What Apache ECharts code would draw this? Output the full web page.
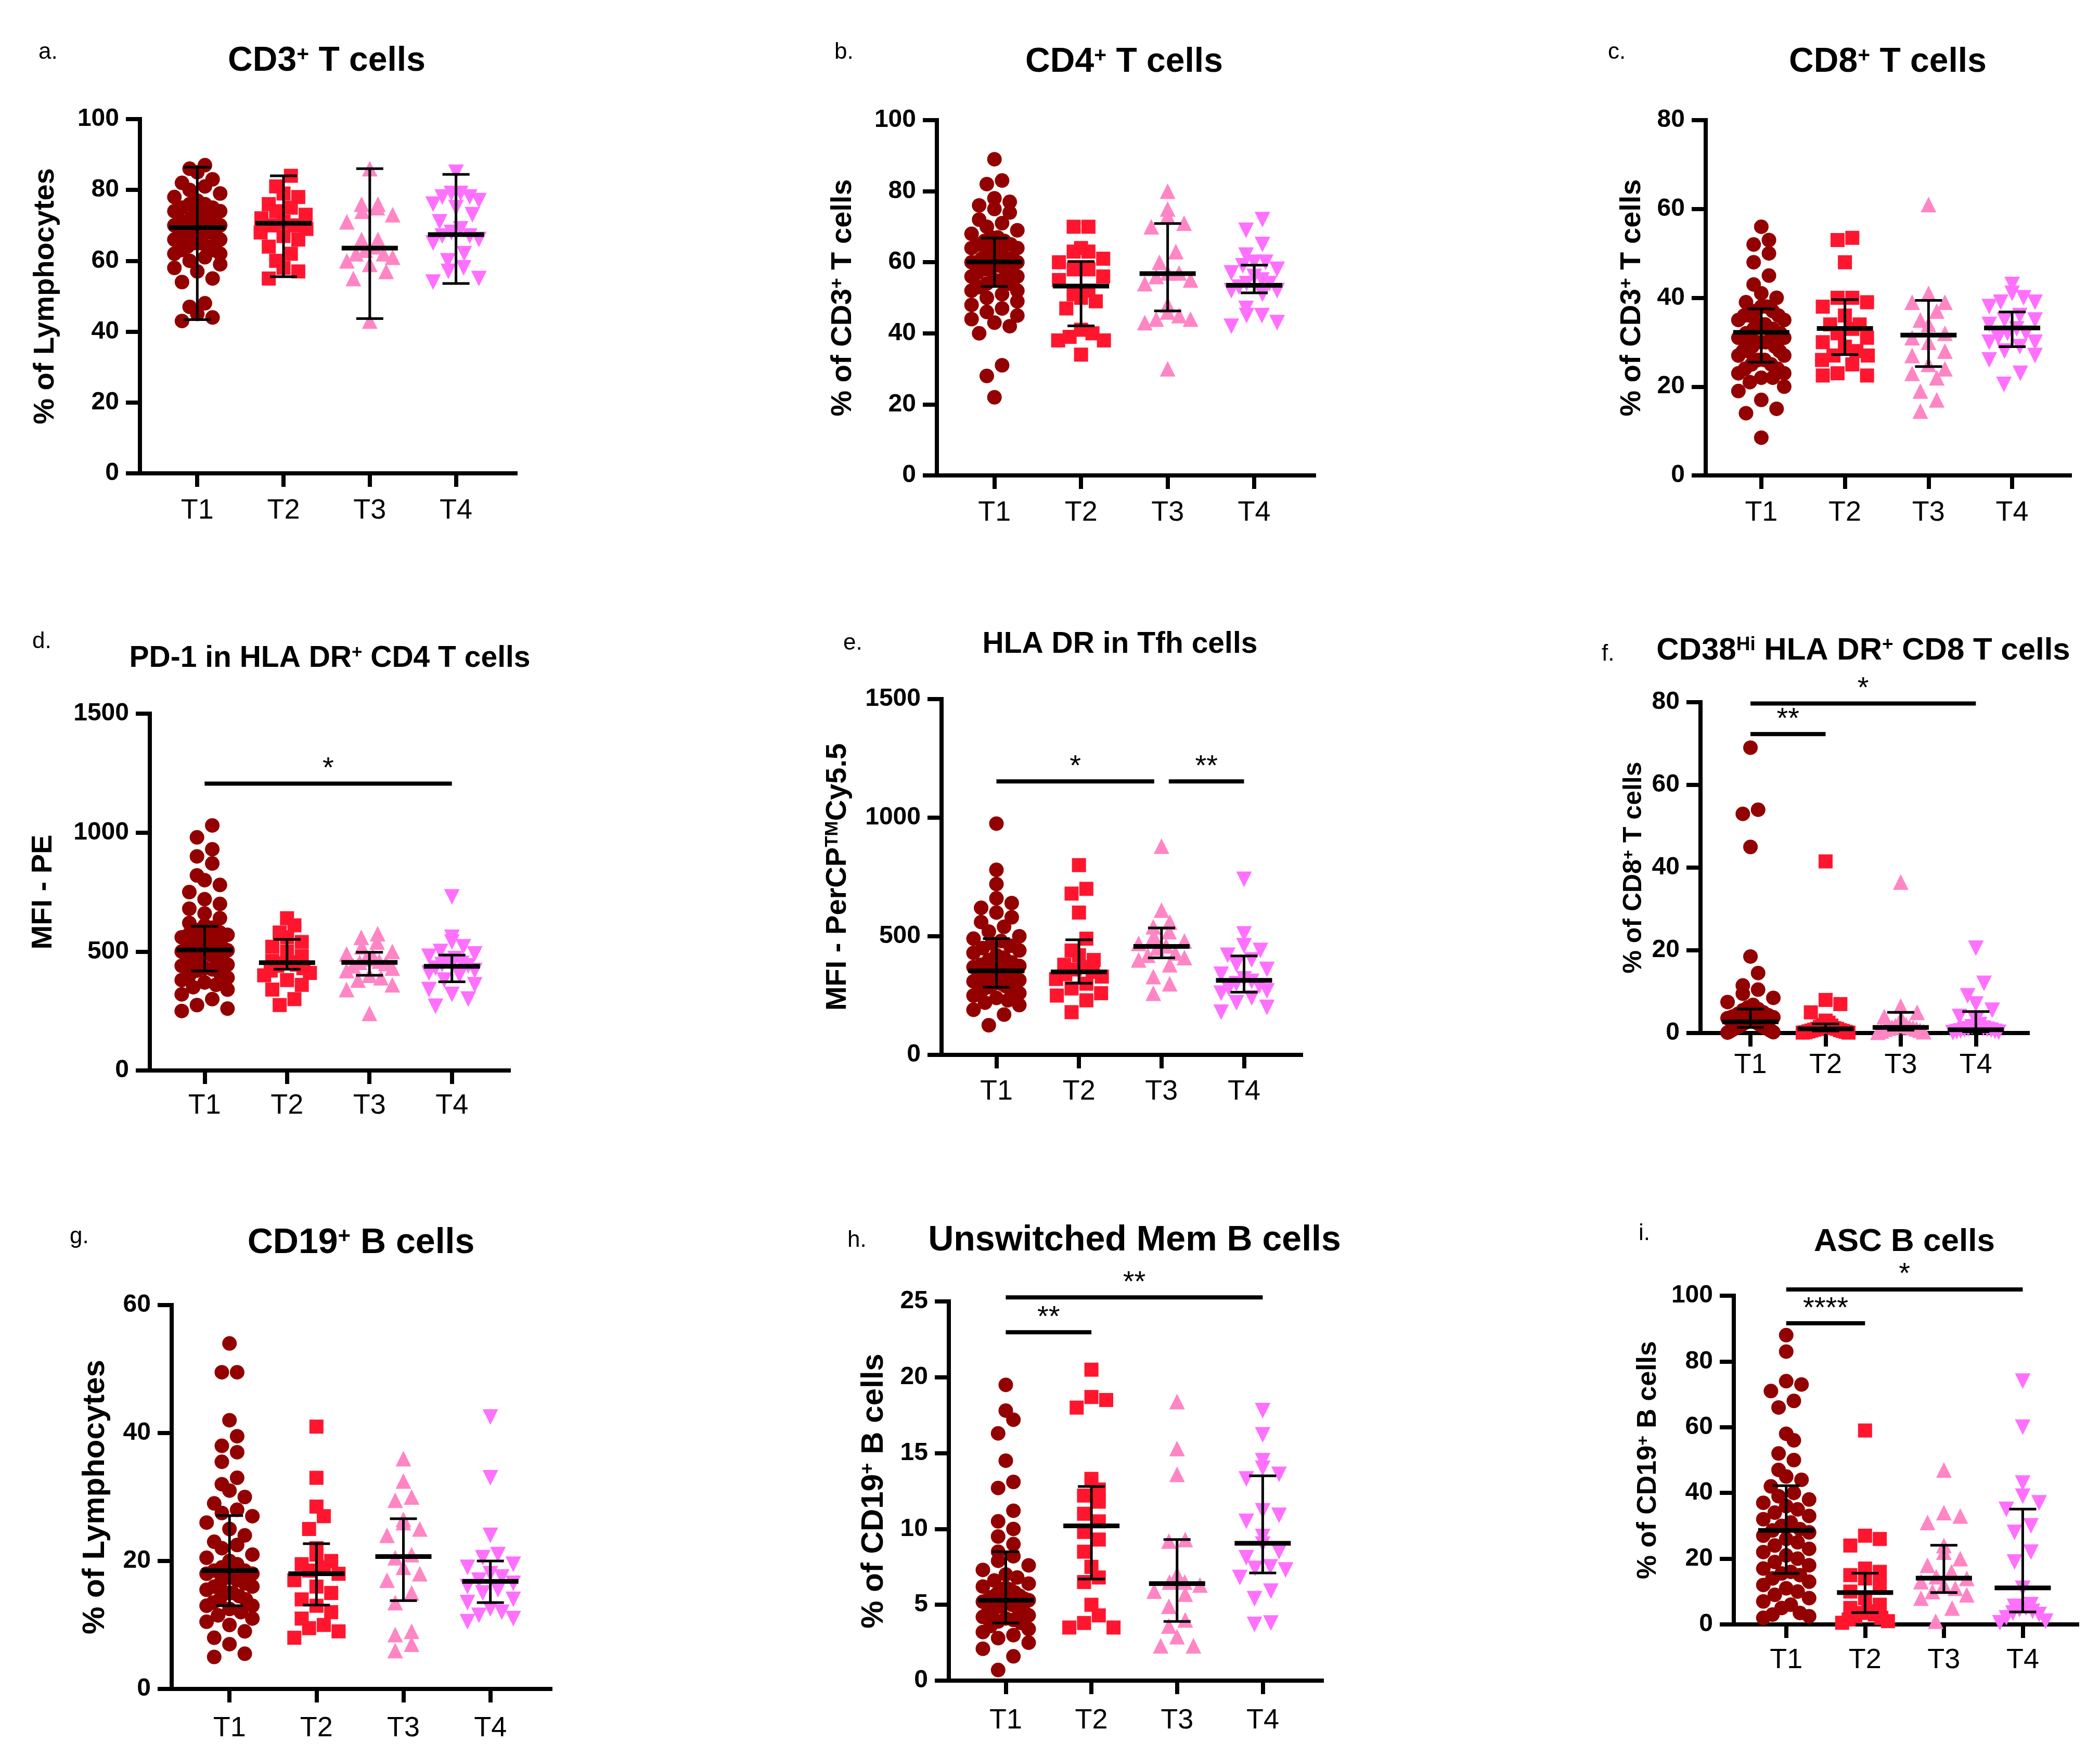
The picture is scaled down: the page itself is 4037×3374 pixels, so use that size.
<!DOCTYPE html>
<html lang="en">
<head>
<meta charset="UTF-8">
<title>T and B cell subsets</title>
<style>
    html, body { margin: 0; padding: 0; background: #fff; }
    #main { width: 4037px; height: 3374px; }
</style>
</head>
<body>
<div id="main"></div>
<script src="https://cdn.jsdelivr.net/npm/echarts@6/dist/echarts.min.js"></script>
<script>
// groups / time points
var groups = ['T1', 'T2', 'T3', 'T4'];

// a. CD3+ T cells (% of lymphocytes)
var cd3T1 = [43, 44, 45, 47, 48, 54, 55, 57, 58, 59, 60, 61, 62, 62, 63, 63, 64, 64, 65, 65, 66, 66, 67, 67, 67, 68, 68, 68, 69, 69, 69, 69, 70, 70, 70, 70, 71, 71, 71, 72, 72, 72, 73, 73, 74, 74, 75, 75, 76, 76, 77, 78, 79, 80, 81, 82, 83, 85, 86, 87];
var cd3T2 = [55, 57, 58, 60, 62, 64, 66, 67, 68, 69, 70, 70, 71, 72, 73, 74, 75, 76, 78, 79, 81, 84];
var cd3T3 = [43, 55, 57, 59, 60, 61, 62, 62, 63, 64, 66, 66, 71, 73, 74, 75, 76, 76, 86];
var cd3T4 = [54, 55, 57, 58, 60, 62, 65, 66, 67, 67, 68, 69, 71, 73, 75, 76, 77, 78, 78, 79, 79, 85];
var cd3Median = [69.4, 70.6, 63.6, 67.4];
var cd3Low = [43.4, 55.5, 43.7, 53.6];
var cd3High = [86.4, 84.0, 86.0, 84.4];

// b. CD4+ T cells (% of CD3+)
var cd4T1 = [22, 28, 31, 40, 42, 43, 44, 45, 46, 47, 48, 49, 50, 51, 52, 52, 53, 54, 54, 55, 55, 56, 56, 57, 57, 58, 58, 58, 59, 59, 60, 60, 60, 61, 61, 61, 62, 62, 63, 63, 64, 64, 65, 65, 66, 66, 67, 67, 68, 69, 70, 71, 72, 74, 75, 76, 77, 78, 82, 83, 89];
var cd4T2 = [34, 38, 38, 39, 40, 41, 47, 49, 50, 51, 52, 55, 56, 58, 58, 60, 61, 63, 63, 64, 70, 70];
var cd4T3 = [30, 43, 44, 44, 45, 46, 48, 54, 55, 56, 57, 57, 60, 63, 70, 71, 73, 75, 80];
var cd4T4 = [42, 43, 45, 45, 47, 51, 52, 52, 53, 54, 54, 55, 56, 57, 58, 59, 60, 60, 62, 65, 69, 72];
var cd4Median = [60.1, 53.3, 56.8, 53.5];
var cd4Low = [53.2, 42.1, 46.3, 51.4];
var cd4High = [66.8, 60.2, 70.9, 59.2];

// c. CD8+ T cells (% of CD3+)
var cd8T1 = [8.5, 14, 15, 17, 19, 20, 21, 22, 22, 23, 23, 24, 24, 25, 25, 26, 26, 27, 27, 28, 28, 28, 29, 29, 30, 30, 30, 30, 31, 31, 31, 32, 32, 32, 32, 33, 33, 33, 34, 34, 34, 35, 35, 36, 36, 36, 37, 37, 38, 38, 39, 40, 41, 43, 45, 48, 50, 52, 53, 56];
var cd8T2 = [22.5, 22.5, 23, 25, 26, 27, 27, 28, 29, 30, 31, 32, 33, 34, 34, 36, 38, 39, 40, 40, 48, 53, 53.5];
var cd8T3 = [14.5, 17, 19, 22, 23, 24, 25, 27, 28, 30, 31, 32, 34, 35, 37, 39, 39, 41, 61];
var cd8T4 = [20.5, 23, 26, 27, 28, 29, 30, 30, 31, 32, 32, 33, 34, 35, 35, 36, 38, 39, 39, 40, 41, 43];
var cd8Median = [32.2, 33.1, 31.6, 33.2];
var cd8Low = [25.5, 27.2, 24.5, 29.0];
var cd8High = [37.5, 39.6, 39.4, 36.8];

// d. PD-1 in HLA DR+ CD4 T cells (MFI - PE)
var pd1T1 = [250, 260, 275, 300, 320, 340, 350, 360, 370, 380, 390, 400, 410, 420, 425, 430, 440, 445, 450, 455, 460, 465, 470, 475, 480, 485, 490, 495, 500, 505, 510, 515, 520, 525, 530, 540, 545, 550, 555, 560, 570, 575, 580, 590, 600, 610, 620, 640, 660, 680, 700, 720, 750, 780, 800, 820, 870, 900, 930, 980, 1030];
var pd1T2 = [275, 300, 340, 360, 380, 400, 410, 420, 430, 440, 445, 450, 455, 460, 480, 500, 520, 540, 560, 580, 610, 640];
var pd1T3 = [240, 340, 360, 380, 390, 400, 420, 430, 440, 450, 455, 460, 470, 480, 490, 500, 520, 540, 560, 575];
var pd1T4 = [270, 300, 320, 340, 360, 380, 400, 410, 420, 430, 440, 445, 450, 460, 470, 480, 490, 500, 520, 540, 560, 730];
var pd1Median = [507, 453, 454, 438];
var pd1Low = [418, 426, 400, 373];
var pd1High = [606, 551, 497, 485];
var pd1Sig = [{from: 1, to: 4, y: 1206, text: '*'}];

// e. HLA DR in Tfh cells (MFI - PerCP-Cy5.5)
var tfhT1 = [125, 170, 190, 210, 220, 230, 240, 250, 260, 265, 270, 275, 280, 285, 290, 295, 300, 305, 310, 315, 320, 325, 330, 335, 340, 345, 350, 352, 355, 358, 360, 365, 370, 375, 380, 390, 400, 410, 420, 430, 440, 450, 460, 470, 480, 490, 500, 520, 540, 560, 580, 600, 620, 640, 660, 720, 780, 975];
var tfhT2 = [180, 230, 250, 260, 280, 300, 320, 330, 340, 350, 360, 370, 380, 400, 420, 440, 490, 600, 680, 700, 800];
var tfhT3 = [260, 300, 330, 380, 400, 410, 420, 430, 450, 460, 470, 480, 500, 520, 540, 560, 610, 880];
var tfhT4 = [180, 200, 220, 240, 260, 270, 280, 290, 300, 310, 320, 340, 360, 380, 400, 420, 440, 460, 510, 740];
var tfhMedian = [354, 350, 457, 314];
var tfhLow = [285, 302, 409, 264];
var tfhHigh = [490, 485, 535, 417];
var tfhSig = [{from: 1, to: 3, y: 1153, text: '*'}, {from: 3, to: 4, y: 1153, text: '**'}];

// f. CD38Hi HLA DR+ CD8 T cells (% of CD8+)
var cd38T1 = [0.1, 0.2, 0.3, 0.4, 0.5, 0.6, 0.7, 0.8, 0.9, 1.0, 1.1, 1.2, 1.3, 1.35, 1.4, 1.5, 1.6, 1.7, 1.8, 1.9, 2.0, 2.1, 2.2, 2.3, 2.4, 2.5, 2.6, 2.7, 2.7, 2.8, 2.9, 3.0, 3.2, 3.4, 3.6, 3.8, 4.0, 4.3, 4.6, 5.0, 5.5, 5.8, 6.2, 6.8, 7.5, 8.5, 9.5, 10.5, 11.5, 14.5, 18.5, 45, 53, 54, 69];
var cd38T2 = [0.1, 0.1, 0.2, 0.3, 0.4, 0.5, 0.6, 0.7, 0.8, 1.0, 1.0, 1.2, 1.5, 1.8, 2.0, 2.5, 3.0, 5.0, 7.0, 8.0, 41.5];
var cd38T3 = [0.2, 0.3, 0.5, 0.7, 0.9, 1.0, 1.2, 1.3, 1.4, 1.5, 1.8, 2.0, 2.5, 3.0, 4.0, 5.0, 6.5, 36.5];
var cd38T4 = [0.1, 0.2, 0.3, 0.4, 0.5, 0.7, 0.8, 0.9, 1.0, 1.2, 1.5, 2.0, 3.0, 4.0, 5.5, 7.0, 9.0, 12.0, 20.5];
var cd38Median = [2.7, 1.0, 1.35, 0.8];
var cd38Low = [1.35, 0.5, 0.7, 0.3];
var cd38High = [5.8, 2.2, 5.0, 5.2];
var cd38Sig = [{from: 1, to: 4, y: 79.7, text: '*'}, {from: 1, to: 2, y: 72.3, text: '**'}];

// g. CD19+ B cells (% of lymphocytes)
var cd19T1 = [5, 5.5, 7, 8, 9, 10, 10.5, 11, 11.5, 12, 12.5, 13, 13, 13.5, 14, 14, 14.5, 15, 15, 15.5, 16, 16, 16.5, 17, 17, 17.5, 18, 18, 18.5, 18.5, 19, 19.5, 20, 20.5, 21, 22, 22.5, 23, 24, 25, 26, 27, 27.5, 28, 29, 30, 31, 32, 33, 35.5, 37, 38, 39.5, 42, 49.5, 49.5, 54];
var cd19T2 = [8, 9, 9.5, 10, 11, 12, 13, 14, 15, 16, 17, 18, 18.5, 19, 19.5, 20, 21, 22, 25, 27, 28.5, 33, 41];
var cd19T3 = [6, 7, 8.5, 9, 13.5, 15, 17, 18, 19, 20.5, 21, 24, 25, 26, 26.5, 29.5, 30, 32.5, 36];
var cd19T4 = [10.5, 11, 11.5, 12, 12.5, 13.5, 14, 15, 15.5, 16, 16.5, 17, 17.5, 18, 19, 19.5, 20.5, 21, 24, 33, 42.5];
var cd19Median = [18.5, 18.0, 20.7, 16.8];
var cd19Low = [13.0, 13.1, 13.8, 13.5];
var cd19High = [27.1, 22.7, 26.6, 20.0];

// h. Unswitched memory B cells (% of CD19+)
var unswT1 = [0.7, 1.6, 2.1, 2.5, 2.8, 3.0, 3.2, 3.4, 3.6, 3.8, 3.9, 4.0, 4.1, 4.2, 4.3, 4.4, 4.5, 4.6, 4.7, 4.8, 4.9, 4.9, 5.0, 5.1, 5.1, 5.2, 5.3, 5.3, 5.4, 5.5, 5.6, 5.7, 5.8, 5.9, 6.0, 6.1, 6.2, 6.4, 6.6, 6.8, 7.0, 7.3, 7.6, 7.9, 8.2, 8.5, 9.0, 9.5, 10.0, 10.5, 11.2, 12.7, 13.1, 14.5, 16.3, 17.2, 17.8, 19.5];
var unswT2 = [3.5, 3.5, 3.8, 4.3, 5.0, 6.5, 6.8, 7.5, 8.5, 9.3, 9.8, 10.5, 11.0, 11.8, 12.2, 12.6, 13.3, 18.0, 18.5, 18.7, 20.5];
var unswT3 = [2.3, 2.3, 2.9, 3.6, 4.0, 4.9, 5.7, 5.9, 6.3, 6.5, 6.5, 7.0, 9.2, 9.3, 13.6, 15.3, 18.4];
var unswT4 = [3.7, 3.8, 5.4, 5.9, 6.8, 7.3, 7.4, 7.5, 8.1, 8.5, 9.0, 9.5, 10.5, 10.9, 11.2, 13.3, 13.6, 14.0, 14.5, 16.2, 17.8];
var unswMedian = [5.3, 10.2, 6.4, 9.05];
var unswLow = [3.8, 6.7, 3.9, 7.1];
var unswHigh = [8.5, 12.8, 9.3, 13.5];
var unswSig = [{from: 1, to: 4, y: 25.27, text: '**'}, {from: 1, to: 2, y: 22.97, text: '**'}];

// i. ASC B cells (% of CD19+)
var ascT1 = [2, 2.5, 3, 3.5, 5, 6, 7, 8, 9, 10, 11, 12, 13, 14, 15, 15.5, 16, 17, 18, 19, 20, 21, 22, 23, 24, 25, 26, 27, 28, 28.6, 29, 30, 31, 32, 33, 34, 35, 36, 37, 38, 39, 40, 42, 44, 45, 47, 50, 52, 56, 58, 66, 68, 71, 73, 74, 83, 88];
var ascT2 = [0.5, 1, 1.5, 2, 2.5, 3, 3.5, 4, 5, 6, 8, 10, 12, 14, 15, 16, 17, 24, 26, 27, 59];
var ascT3 = [1, 5, 8, 9, 10, 11, 12, 13, 14, 14.5, 16, 18, 20, 22, 24, 31, 33, 34, 47];
var ascT4 = [0.5, 1, 2, 3, 3.5, 4, 4.5, 5, 5.5, 6, 11, 19, 22, 28, 30, 35, 37, 39, 43, 60, 74];
var ascMedian = [28.6, 9.7, 14.1, 11.1];
var ascLow = [15.5, 3.6, 9.7, 3.8];
var ascHigh = [42.2, 15.6, 24.1, 35.1];
var ascSig = [{from: 1, to: 4, y: 101.9, text: '*'}, {from: 1, to: 2, y: 91.6, text: '****'}];

// ---- styles ----
var FONT = 'Liberation Sans, Arial, sans-serif';
var COLORS = ['#930000', '#ff162e', '#ff85c4', '#ff70ff'];
var SYMBOLS = ['circle', 'rect', 'triangle', 'triangle'];
var ROTATE = [0, 0, 0, 180];
var SIZES = [28, 27, 30, 30];
var X_MIN = 0.335, X_MAX = 4.69;
var SWARM_HALF = 44;   // max half width of a column of dots, px

// panel layout (pixels)
var panels = [
    {letter: 'a.', lx: 74, ly: 101, title: '{t|CD3}{s|+}{t| T cells}', tx: 628, ty: 118, ts: 66,
     left: 269, top: 229, right: 991, bottom: 910, yMax: 100, yStep: 20,
     yName: '% of Lymphocytes', nameGap: 153, nameSize: 56, labelMargin: 45,
     data: [cd3T1, cd3T2, cd3T3, cd3T4], median: cd3Median, low: cd3Low, high: cd3High, sig: []},
    {letter: 'b.', lx: 1604, ly: 101, title: '{t|CD4}{s|+}{t| T cells}', tx: 2161, ty: 120, ts: 66,
     left: 1801, top: 231, right: 2526, bottom: 914, yMax: 100, yStep: 20,
     yName: '% of CD3{s|+} T cells', nameGap: 152, nameSize: 56, labelMargin: 45,
     data: [cd4T1, cd4T2, cd4T3, cd4T4], median: cd4Median, low: cd4Low, high: cd4High, sig: []},
    {letter: 'c.', lx: 3091, ly: 101, title: '{t|CD8}{s|+}{t| T cells}', tx: 3629, ty: 120, ts: 66,
     left: 3279, top: 231, right: 3979, bottom: 914, yMax: 80, yStep: 20,
     yName: '% of CD3{s|+} T cells', nameGap: 113, nameSize: 56, labelMargin: 45,
     data: [cd8T1, cd8T2, cd8T3, cd8T4], median: cd8Median, low: cd8Low, high: cd8High, sig: []},
    {letter: 'd.', lx: 62, ly: 1234, title: '{t|PD-1 in HLA DR}{s|+}{t| CD4 T cells}', tx: 634, ty: 1266, ts: 57,
     left: 288, top: 1372, right: 978, bottom: 2058, yMax: 1500, yStep: 500,
     yName: 'MFI - PE', nameGap: 176, nameSize: 56, labelMargin: 41,
     data: [pd1T1, pd1T2, pd1T3, pd1T4], median: pd1Median, low: pd1Low, high: pd1High, sig: pd1Sig},
    {letter: 'e.', lx: 1621, ly: 1237, title: '{t|HLA DR in Tfh cells}', tx: 2153, ty: 1239, ts: 57,
     left: 1810, top: 1344, right: 2501, bottom: 2028, yMax: 1500, yStep: 500,
     yName: 'MFI - PerCP{s|TM}Cy5.5', nameGap: 171, nameSize: 56, labelMargin: 44,
     data: [tfhT1, tfhT2, tfhT3, tfhT4], median: tfhMedian, low: tfhLow, high: tfhHigh, sig: tfhSig},
    {letter: 'f.', lx: 3079, ly: 1258, title: '{t|CD38}{s|Hi}{t| HLA DR}{s|+}{t| CD8 T cells}', tx: 3582, ty: 1251, ts: 60,
     left: 3269, top: 1350, right: 3898, bottom: 1986, yMax: 80, yStep: 20,
     yName: '% of CD8{s|+} T cells', nameGap: 103, nameSize: 50, labelMargin: 35,
     data: [cd38T1, cd38T2, cd38T3, cd38T4], median: cd38Median, low: cd38Low, high: cd38High, sig: cd38Sig},
    {letter: 'g.', lx: 134, ly: 2378, title: '{t|CD19}{s|+}{t| B cells}', tx: 694, ty: 2390, ts: 68,
     left: 330, top: 2509, right: 1058, bottom: 3247, yMax: 60, yStep: 20,
     yName: '% of Lymphocytes', nameGap: 117, nameSize: 60, labelMargin: 49,
     data: [cd19T1, cd19T2, cd19T3, cd19T4], median: cd19Median, low: cd19Low, high: cd19High, sig: []},
    {letter: 'h.', lx: 1629, ly: 2385, title: '{t|Unswitched Mem B cells}', tx: 2181, ty: 2385, ts: 68,
     left: 1824, top: 2502, right: 2541, bottom: 3231, yMax: 25, yStep: 5,
     yName: '% of CD19{s|+} B cells', nameGap: 114, nameSize: 60, labelMargin: 50,
     data: [unswT1, unswT2, unswT3, unswT4], median: unswMedian, low: unswLow, high: unswHigh, sig: unswSig},
    {letter: 'i.', lx: 3150, ly: 2372, title: '{t|ASC B cells}', tx: 3661, ty: 2388, ts: 62,
     left: 3333, top: 2491, right: 3993, bottom: 3123, yMax: 100, yStep: 20,
     yName: '% of CD19{s|+} B cells', nameGap: 138, nameSize: 52, labelMargin: 42,
     data: [ascT1, ascT2, ascT3, ascT4], median: ascMedian, low: ascLow, high: ascHigh, sig: ascSig}
];

// row-based scatter layout (like a dot plot): points whose pixel heights are close
// share a row and are spread sideways, squeezed to keep the column narrow
function swarm(values, pxPerY, diam) {
    var order = values.map(function (v, i) { return i; });
    order.sort(function (a, b) { return values[a] - values[b]; });
    var rows = [], cur = [], start = 0;
    order.forEach(function (i) {
        var y = values[i] * pxPerY;
        if (cur.length && y - start > diam * 0.95) { rows.push(cur); cur = []; }
        if (!cur.length) start = y;
        cur.push(i);
    });
    if (cur.length) rows.push(cur);
    var out = [];
    rows.forEach(function (r) {
        var n = r.length;
        var step = n > 1 ? Math.min(diam * 1.05, 2 * SWARM_HALF / (n - 1)) : 0;
        r.forEach(function (i, j) {
            // alternate left / right so the row is not slanted
            var pos = (j % 2 === 0) ? j / 2 : n - 1 - (j - 1) / 2;
            out[i] = (pos - (n - 1) / 2) * step;
        });
    });
    return out;
}

var titles = [], grids = [], xAxes = [], yAxes = [], series = [];

panels.forEach(function (p, k) {
    var w = p.right - p.left, h = p.bottom - p.top;
    var sp = w / (X_MAX - X_MIN), pxY = h / p.yMax;

    titles.push({
        text: p.title, left: p.tx, top: p.ty, padding: 0,
        textAlign: 'center', textVerticalAlign: 'middle',
        textStyle: {
            fontFamily: FONT, color: '#000',
            rich: {
                t: {fontFamily: FONT, fontSize: p.ts, fontWeight: 'bold', color: '#000'},
                s: {fontFamily: FONT, fontSize: Math.round(p.ts * 0.62), fontWeight: 'bold', color: '#000', verticalAlign: 'top'}
            }
        }
    });
    titles.push({
        text: p.letter, left: p.lx, top: p.ly, padding: 0,
        textAlign: 'left', textVerticalAlign: 'middle',
        textStyle: {fontFamily: FONT, fontSize: 44, fontWeight: 'normal', color: '#000'}
    });

    grids.push({left: p.left, top: p.top, width: w, height: h, containLabel: false, outerBoundsMode: 'none'});

    xAxes.push({
        gridIndex: k, type: 'value', min: X_MIN, max: X_MAX,
        axisLine: {show: true, onZero: false, lineStyle: {color: '#000', width: 8, cap: 'square'}},
        axisTick: {show: true, customValues: [1, 2, 3, 4], length: 26, lineStyle: {color: '#000', width: 8}},
        axisLabel: {
            show: true, customValues: [1, 2, 3, 4], margin: p.labelMargin,
            fontFamily: FONT, fontSize: 54, color: '#000',
            formatter: function (v) { return groups[Math.round(v) - 1] || ''; }
        },
        splitLine: {show: false}
    });

    yAxes.push({
        gridIndex: k, type: 'value', min: 0, max: p.yMax, interval: p.yStep,
        name: p.yName, nameLocation: 'middle', nameGap: p.nameGap, nameMoveOverlap: false,
        nameTextStyle: {
            fontFamily: FONT, fontSize: p.nameSize, fontWeight: 'bold', color: '#000',
            rich: {s: {fontFamily: FONT, fontSize: Math.round(p.nameSize * 0.62), fontWeight: 'bold', color: '#000', verticalAlign: 'top'}}
        },
        axisLine: {show: true, onZero: false, lineStyle: {color: '#000', width: 8, cap: 'square'}},
        axisTick: {show: true, length: 27, lineStyle: {color: '#000', width: 8}},
        axisLabel: {
            margin: 40, fontFamily: FONT, fontSize: 48, fontWeight: 'bold', color: '#000',
            formatter: function (v) { return String(v); }
        },
        splitLine: {show: false}
    });

    // dots
    p.data.forEach(function (vals, g) {
        var offs = swarm(vals, pxY, SIZES[g]);
        series.push({
            type: 'scatter', xAxisIndex: k, yAxisIndex: k, silent: true, animation: false,
            symbol: SYMBOLS[g], symbolRotate: ROTATE[g], symbolSize: SIZES[g],
            itemStyle: {color: COLORS[g], opacity: 1, borderWidth: 0},
            z: 2,
            data: vals.map(function (v, i) { return [g + 1 + offs[i] / sp, v]; })
        });
    });

    // median + error bars
    series.push({
        type: 'custom', xAxisIndex: k, yAxisIndex: k, silent: true, z: 5,
        encode: {x: 0, y: [1, 2, 3]},
        data: p.median.map(function (m, g) { return [g + 1, m, p.low[g], p.high[g]]; }),
        renderItem: function (params, api) {
            var x = api.value(0);
            var c = api.coord([x, api.value(1)]);
            var lo = api.coord([x, api.value(2)]);
            var hi = api.coord([x, api.value(3)]);
            var thin = {stroke: '#000', lineWidth: 5};
            return {
                type: 'group',
                children: [
                    {type: 'line', shape: {x1: c[0], y1: hi[1], x2: c[0], y2: lo[1]}, style: thin},
                    {type: 'line', shape: {x1: c[0] - 26, y1: hi[1], x2: c[0] + 26, y2: hi[1]}, style: thin},
                    {type: 'line', shape: {x1: c[0] - 26, y1: lo[1], x2: c[0] + 26, y2: lo[1]}, style: thin},
                    {type: 'line', shape: {x1: c[0] - 54, y1: c[1], x2: c[0] + 54, y2: c[1]}, style: {stroke: '#000', lineWidth: 9}}
                ]
            };
        }
    });

    // significance bars
    if (p.sig.length) {
        var inset = 14 / sp;
        var sigData = p.sig.map(function (s) {
            var a = s.from, b = s.to;
            p.sig.forEach(function (o) {
                if (o !== s && o.y === s.y) {
                    if (o.from === b) b -= inset;
                    if (o.to === a) a += inset;
                }
            });
            return [a, b, s.y];
        });
        series.push({
            type: 'custom', xAxisIndex: k, yAxisIndex: k, silent: true, z: 6, clip: false,
            encode: {x: [0, 1], y: 2},
            data: sigData,
            renderItem: function (params, api) {
                var p1 = api.coord([api.value(0), api.value(2)]);
                var p2 = api.coord([api.value(1), api.value(2)]);
                return {
                    type: 'group',
                    children: [
                        {type: 'line', shape: {x1: p1[0], y1: p1[1], x2: p2[0], y2: p2[1]}, style: {stroke: '#000', lineWidth: 8}},
                        {type: 'text', x: (p1[0] + p2[0]) / 2, y: p1[1] - 28,
                         style: {text: p.sig[params.dataIndex].text, fill: '#000', font: '56px ' + FONT,
                                 align: 'center', verticalAlign: 'middle', textAlign: 'center', textVerticalAlign: 'middle'}}
                    ]
                };
            }
        });
    }
});

var myChart = echarts.init(document.getElementById('main'), null, {renderer: 'canvas'});
myChart.setOption({
    animation: false,
    backgroundColor: '#fff',
    title: titles,
    grid: grids,
    xAxis: xAxes,
    yAxis: yAxes,
    series: series
});
</script>
</body>
</html>
